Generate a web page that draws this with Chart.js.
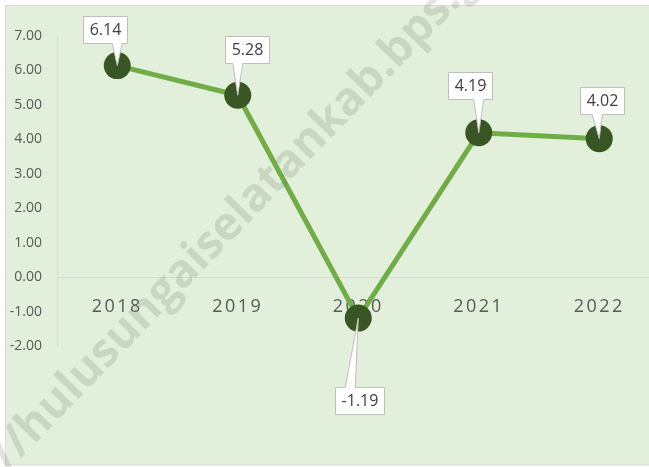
<!DOCTYPE html>
<html><head><meta charset="utf-8">
<script src="https://cdn.jsdelivr.net/npm/chart.js@4/dist/chart.umd.min.js"></script>
<style>html,body{margin:0;padding:0;background:#fff;overflow:hidden}#wrap{position:relative;width:649px;height:467px;overflow:hidden}</style>
</head><body><div id="wrap"><canvas id="c" width="673" height="467"></canvas></div>
<script>
const years = ['2018', '2019', '2020', '2021', '2022'];
const growth = [6.14, 5.28, -1.19, 4.19, 4.02];
const yTickValues = [-2, -1, 0, 1, 2, 3, 4, 5, 6, 7];
const watermarkText = 'https://hulusungaiselatankab.bps.go.id';

// styling: label box centre offsets from each point (px)
const labelOffsets = [[-12, -36.5], [9.5, -46], [1, 82], [-8.5, -47.7], [2.5, -38]];
const pointerShift = [0, 0, -8, 0, -2];

const FONT = '"Open Sans", "Segoe UI", sans-serif';

const bgPlugin = {
  id: 'bg',
  beforeDraw(chart) {
    const c = chart.ctx;
    c.save();
    c.fillStyle = '#ffffff';
    c.fillRect(0, 0, chart.width, chart.height);
    c.fillStyle = '#e2efda';
    c.fillRect(5, 6, 700, 459);
    c.strokeStyle = '#d9d9d9';
    c.lineWidth = 1;
    c.strokeRect(5.5, 5.5, 700, 459.5);
    c.restore();
  },
  afterLayout(chart) {
    const s = chart.scales.x;
    if (s && !s._lsWrapped) {
      const orig = s.drawLabels;
      s.drawLabels = function (a) {
        const c = this.ctx;
        c.save();
        c.letterSpacing = '2.5px';
        orig.call(this, a);
        c.restore();
      };
      s._lsWrapped = true;
    }
  }
};

const labelPlugin = {
  id: 'callouts',
  afterDatasetsDraw(chart) {
    const c = chart.ctx;
    const meta = chart.getDatasetMeta(0);
    c.save();
    c.font = '16px ' + FONT;
    c.textAlign = 'center';
    c.textBaseline = 'middle';
    meta.data.forEach((pt, i) => {
      const txt = growth[i].toFixed(2);
      const w = Math.round(c.measureText(txt).width + 12);
      const h = 27;
      const cx = pt.x + labelOffsets[i][0];
      const cy = pt.y + labelOffsets[i][1];
      const L = Math.round(cx - w / 2) + 0.5, R = L + w;
      const T = Math.round(cy - h / 2) + 0.5, B = T + h;
      let bc = pt.x + pointerShift[i];
      bc = Math.max(L + 7, Math.min(R - 7, bc));
      const b1 = bc - 5, b2 = bc + 5;
      c.beginPath();
      if (pt.y > cy) {
        c.moveTo(L, T); c.lineTo(R, T); c.lineTo(R, B);
        c.lineTo(b2, B); c.lineTo(pt.x, pt.y); c.lineTo(b1, B);
        c.lineTo(L, B); c.closePath();
      } else {
        c.moveTo(L, B); c.lineTo(R, B); c.lineTo(R, T);
        c.lineTo(b2, T); c.lineTo(pt.x, pt.y); c.lineTo(b1, T);
        c.lineTo(L, T); c.closePath();
      }
      c.fillStyle = '#ffffff';
      c.fill();
      c.strokeStyle = '#bfbfbf';
      c.lineWidth = 1;
      c.stroke();
      c.fillStyle = '#404040';
      c.fillText(txt, (L + R) / 2, (T + B) / 2 + 0.5);
    });
    c.restore();
  },
  afterDraw(chart) {
    const c = chart.ctx;
    c.save();
    // anchor: centre of "h" (of hulu) and centre of first "b" of "bps"
    const hx = 35, hy = 425, bx = 398, by = 50;
    const ang = Math.atan2(by - hy, bx - hx);
    const dist = Math.hypot(bx - hx, by - hy);
    c.font = 'bold 40px ' + FONT;
    const m = s => c.measureText(s).width;
    const iH = watermarkText.indexOf('hulu');
    const iB = watermarkText.indexOf('bps');
    const ch = m(watermarkText.slice(0, iH)) + m('h') / 2;
    const cb = m(watermarkText.slice(0, iB)) + m('b') / 2;
    const size = 40 * dist / (cb - ch);
    c.font = 'bold ' + size.toFixed(2) + 'px ' + FONT;
    const ch2 = m(watermarkText.slice(0, iH)) + m('h') / 2;
    c.translate(hx, hy);
    c.rotate(ang);
    c.textAlign = 'left';
    c.textBaseline = 'middle';
    c.fillStyle = 'rgba(105,120,100,0.2)';
    c.fillText(watermarkText, -ch2, 0);
    c.restore();
  }
};

new Chart(document.getElementById('c'), {
  type: 'line',
  data: {
    labels: years,
    datasets: [{
      data: growth,
      borderColor: '#70ad47',
      borderWidth: 5,
      pointRadius: 13.5,
      pointBackgroundColor: '#375623',
      pointBorderColor: '#375623',
      pointBorderWidth: 0,
      tension: 0
    }]
  },
  options: {
    responsive: false,
    devicePixelRatio: 1,
    animation: false,
    layout: { padding: { top: 36, bottom: 121, left: 0, right: 3 } },
    plugins: { legend: { display: false }, tooltip: { enabled: false } },
    scales: {
      x: {
        type: 'category',
        position: { y: 0 },
        offset: true,
        grid: { display: false, drawTicks: false },
        border: { display: true, color: '#d9d9d9', width: 1 },
        ticks: { font: { size: 18, family: FONT }, color: '#595959', padding: 19, maxRotation: 0 }
      },
      y: {
        min: -2, max: 7,
        afterBuildTicks(s) { s.ticks = yTickValues.map(v => ({ value: v })); },
        afterFit(s) { s.width = 57; },
        grid: { display: false, drawTicks: false },
        border: { display: true, color: '#d9d9d9', width: 1 },
        ticks: { font: { size: 14, family: FONT }, color: '#595959', padding: 15, callback: v => Number(v).toFixed(2) }
      }
    }
  },
  plugins: [bgPlugin, labelPlugin]
});
</script></body></html>
